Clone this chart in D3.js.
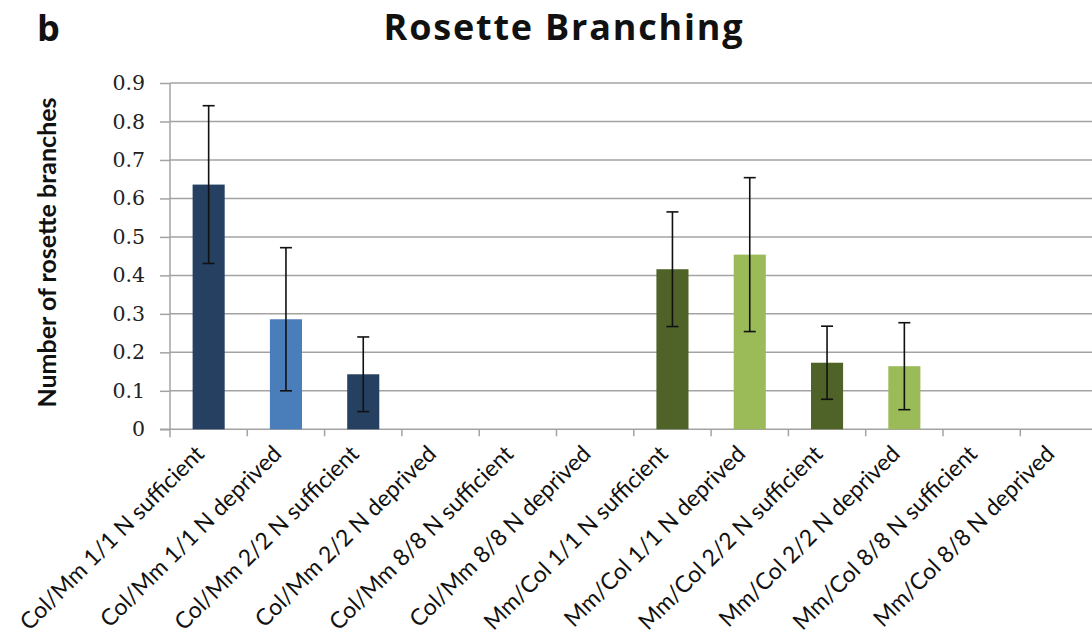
<!DOCTYPE html>
<html>
<head>
<meta charset="utf-8">
<script src="https://cdn.jsdelivr.net/npm/d3@7"></script>
<style>
  html, body { margin: 0; padding: 0; background: #fff; }
  svg { display: block; }
</style>
</head>
<body>
<svg id="chart" width="1092" height="644"></svg>
<script>
// Rosette branching per graft combination and nitrogen treatment
const categories = [
  "Col/Mm 1/1 N sufficient", "Col/Mm 1/1 N deprived",
  "Col/Mm 2/2 N sufficient", "Col/Mm 2/2 N deprived",
  "Col/Mm 8/8 N sufficient", "Col/Mm 8/8 N deprived",
  "Mm/Col 1/1 N sufficient", "Mm/Col 1/1 N deprived",
  "Mm/Col 2/2 N sufficient", "Mm/Col 2/2 N deprived",
  "Mm/Col 8/8 N sufficient", "Mm/Col 8/8 N deprived"
];
const values = [0.636, 0.286, 0.143, 0, 0, 0, 0.416, 0.454, 0.173, 0.164, 0, 0];
const errors = [0.205, 0.186, 0.097, 0, 0, 0, 0.149, 0.200, 0.095, 0.113, 0, 0];
const yTicks = [0, 0.1, 0.2, 0.3, 0.4, 0.5, 0.6, 0.7, 0.8, 0.9];

const svg = d3.select("#chart");
const plotLeft = 170, plotRight = 1097.6, plotTop = 83, plotBottom = 429.3;

const x = d3.scaleBand().domain(categories).range([plotLeft, plotRight])
  .paddingInner(0.585).paddingOuter(0.2925);
const y = d3.scaleLinear().domain([0, 0.9]).range([plotBottom, plotTop]);

// bar colour: navy / blue for Col/Mm, olive / light green for Mm/Col
function barColor(name) {
  const deprived = name.endsWith("deprived");
  if (name.startsWith("Col")) return deprived ? "#4a7ebb" : "#254061";
  return deprived ? "#9bbb59" : "#4f6228";
}

// horizontal gridlines
svg.append("g").selectAll("line").data(yTicks.slice(1)).join("line")
  .attr("x1", plotLeft).attr("x2", 1092)
  .attr("y1", d => y(d)).attr("y2", d => y(d))
  .attr("stroke", "#a3a3a3").attr("stroke-width", 1.5);

// y axis
const yAxis = svg.append("g").attr("transform", `translate(${plotLeft},0)`)
  .call(d3.axisLeft(y).tickValues(yTicks).tickSize(10).tickPadding(15)
    .tickFormat(d => d === 0 ? "0" : d3.format(".1f")(d)));
yAxis.select(".domain").remove();
yAxis.selectAll(".tick line").attr("stroke", "#a3a3a3").attr("stroke-width", 1.5);
yAxis.selectAll(".tick text")
  .attr("font-family", "'DejaVu Serif', 'Liberation Serif', serif")
  .attr("font-size", 20.5).attr("fill", "#222");
svg.append("line").attr("x1", plotLeft).attr("x2", plotLeft)
  .attr("y1", plotTop).attr("y2", plotBottom + 8)
  .attr("stroke", "#a3a3a3").attr("stroke-width", 1.5);

// x axis baseline and category boundary ticks
svg.append("line").attr("x1", plotLeft - 10).attr("x2", 1092)
  .attr("y1", plotBottom).attr("y2", plotBottom)
  .attr("stroke", "#a3a3a3").attr("stroke-width", 1.5);
const step = x.step();
svg.append("g").selectAll("line").data(d3.range(1, categories.length)).join("line")
  .attr("x1", i => plotLeft + i * step).attr("x2", i => plotLeft + i * step)
  .attr("y1", plotBottom).attr("y2", plotBottom + 7)
  .attr("stroke", "#a3a3a3").attr("stroke-width", 1.5);

// bars
svg.append("g").selectAll("rect").data(categories).join("rect")
  .attr("x", d => x(d)).attr("width", x.bandwidth())
  .attr("y", (d, i) => y(values[i]))
  .attr("height", (d, i) => y(0) - y(values[i]))
  .attr("fill", d => barColor(d));

// error bars
const eb = svg.append("g").attr("stroke", "#111").attr("stroke-width", 1.6);
categories.forEach((c, i) => {
  if (!errors[i]) return;
  const cx = x(c) + x.bandwidth() / 2;
  const hi = y(values[i] + errors[i]), lo = y(values[i] - errors[i]);
  eb.append("line").attr("x1", cx).attr("x2", cx).attr("y1", hi).attr("y2", lo);
  eb.append("line").attr("x1", cx - 6).attr("x2", cx + 6).attr("y1", hi).attr("y2", hi);
  eb.append("line").attr("x1", cx - 6).attr("x2", cx + 6).attr("y1", lo).attr("y2", lo);
});

// rotated category labels
svg.append("g").selectAll("text").data(categories).join("text")
  .attr("transform", d => `translate(${x(d) + x.bandwidth() / 2 - 3},${plotBottom + 26}) rotate(-45)`)
  .attr("text-anchor", "end")
  .attr("font-family", "Lato, 'Open Sans', sans-serif")
  .attr("font-size", 23).attr("fill", "#111")
  .text(d => d);

// y axis title
svg.append("text")
  .attr("transform", `translate(56,${(100 + 405) / 2}) rotate(-90)`)
  .attr("text-anchor", "middle")
  .attr("font-family", "Lato, 'Open Sans', sans-serif")
  .attr("font-weight", "bold").attr("font-size", 25).attr("fill", "#111")
  .text("Number of rosette branches");

// chart title and panel letter
svg.append("text").attr("x", 564).attr("y", 40).attr("text-anchor", "middle")
  .attr("font-family", "'Open Sans', Lato, sans-serif")
  .attr("font-weight", "bold").attr("font-size", 36)
  .attr("letter-spacing", 1.8).attr("fill", "#111")
  .text("Rosette Branching");
svg.append("text").attr("x", 37).attr("y", 41)
  .attr("font-family", "'Open Sans', Lato, sans-serif")
  .attr("font-weight", "bold").attr("font-size", 36).attr("fill", "#111")
  .text("b");
</script>
</body>
</html>
